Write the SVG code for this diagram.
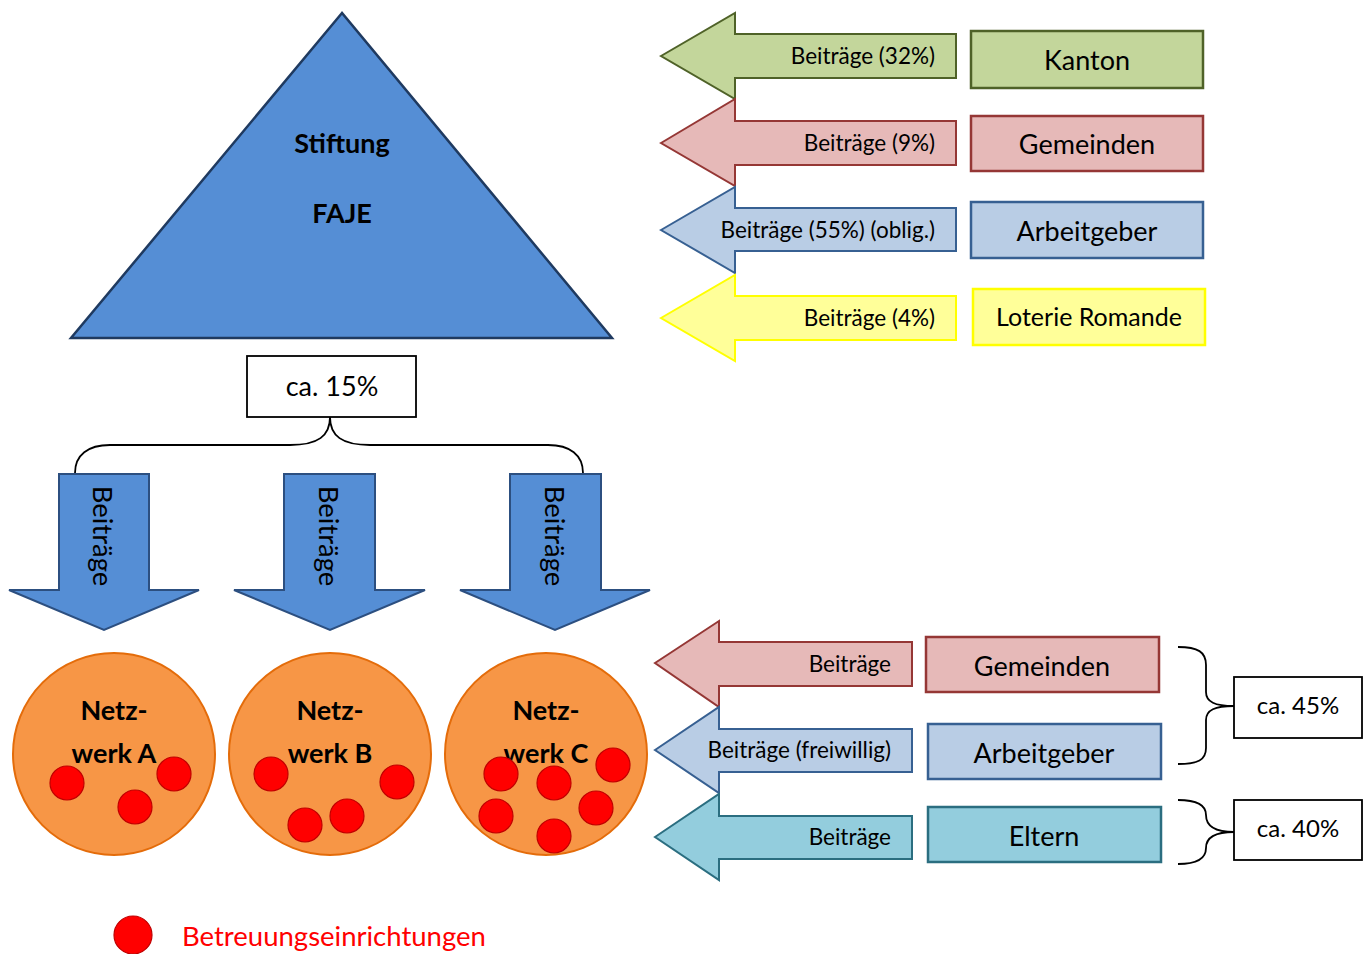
<svg xmlns="http://www.w3.org/2000/svg" width="1370" height="954" viewBox="0 0 1370 954">
<style>
text{font-family:Lato,"Open Sans","Liberation Sans",sans-serif;fill:#000}
.lbl{font-size:22.5px;text-anchor:end}
.box{font-size:27px;text-anchor:middle}
.pct{font-size:24px;text-anchor:middle}
.bold{font-weight:bold;font-size:27px;text-anchor:middle}
.vert{font-size:27.5px;text-anchor:middle}
.dot{fill:#FF0000;stroke:#C00000;stroke-width:1.2}
.net{fill:#F79646;stroke:#E46C0A;stroke-width:2}
.down{fill:#558ED5;stroke:#2C4F80;stroke-width:2}
.brace{fill:none;stroke:#000;stroke-width:1.8}
.wbox{fill:#fff;stroke:#000;stroke-width:1.8}
</style>
<rect width="1370" height="954" fill="#fff"/>

<g id="stiftung">
<polygon points="342,13 71,338 612,338" fill="#558ED5" stroke="#1F3A60" stroke-width="2.5"/>
<text class="bold" x="342" y="153">Stiftung</text>
<text class="bold" x="342" y="223">FAJE</text>
</g>

<g id="connectors">
<g id="arrow-kanton"><polygon points="661,56 735,13 735,34 956,34 956,78 735,78 735,99" fill="#C3D69B" stroke="#4F6228" stroke-width="2"/><text class="lbl" x="935" y="64">Beiträge (32%)</text></g>
<g id="arrow-gemeinden"><polygon points="661,143 735,99 735,121 956,121 956,165 735,165 735,186" fill="#E6B9B8" stroke="#953735" stroke-width="2"/><text class="lbl" x="935" y="151">Beiträge (9%)</text></g>
<g id="arrow-arbeitgeber"><polygon points="661,230 735,187 735,208 956,208 956,251 735,251 735,273" fill="#B9CDE5" stroke="#376092" stroke-width="2"/><text class="lbl" x="935" y="238">Beiträge (55%) (oblig.)</text></g>
<g id="arrow-loterie"><polygon points="661,318 735,275 735,296 956,296 956,340 735,340 735,361" fill="#FFFF99" stroke="#FFFF00" stroke-width="2"/><text class="lbl" x="935" y="326">Beiträge (4%)</text></g>

<path class="brace" d="M330,417 C330,436 318,445 290,445 L110,445 C88,445 75,455 75,473"/>
<path class="brace" d="M330,417 C330,436 342,445 370,445 L548,445 C570,445 583,455 583,473"/>

<g id="down-a"><polygon class="down" points="59,474 149,474 149,590 199,590 104,630 9,590 59,590"/><text class="vert" transform="translate(103,536) rotate(90)" x="0" y="10">Beiträge</text></g>
<g id="down-b"><polygon class="down" points="284,474 375,474 375,590 425,590 330,630 234,590 284,590"/><text class="vert" transform="translate(329,536) rotate(90)" x="0" y="10">Beiträge</text></g>
<g id="down-c"><polygon class="down" points="510,474 601,474 601,590 650,590 555,630 460,590 510,590"/><text class="vert" transform="translate(555,536) rotate(90)" x="0" y="10">Beiträge</text></g>

<g id="arrow-gemeinden2"><polygon points="655,663 719,621 719,642 912,642 912,686 719,686 719,707" fill="#E6B9B8" stroke="#953735" stroke-width="2"/><text class="lbl" x="891" y="672">Beiträge</text></g>
<g id="arrow-arbeitgeber2"><polygon points="655,750 719,707 719,729 912,729 912,772 719,772 719,793" fill="#B9CDE5" stroke="#376092" stroke-width="2"/><text class="lbl" x="891" y="758">Beiträge (freiwillig)</text></g>
<g id="arrow-eltern"><polygon points="655,837 719,794 719,816 912,816 912,859 719,859 719,880" fill="#93CDDD" stroke="#2B6E80" stroke-width="2"/><text class="lbl" x="891" y="845">Beiträge</text></g>

<path class="brace" d="M1178,647 C1198,647 1206,652 1206,665 L1206,692 C1206,702 1215,706 1234,706 C1215,706 1206,710 1206,720 L1206,748 C1206,760 1198,764 1178,764"/>
<path class="brace" d="M1178,800 C1198,800 1206,806 1206,815 C1206,826 1215,832 1234,832 C1215,832 1206,838 1206,848 C1206,858 1198,864 1178,864"/>
</g>

<g id="kanton"><rect x="971" y="31" width="232" height="57" fill="#C3D69B" stroke="#4F6228" stroke-width="2.5"/><text class="box" x="1087" y="70">Kanton</text></g>
<g id="gemeinden"><rect x="971" y="116" width="232" height="55" fill="#E6B9B8" stroke="#953735" stroke-width="2.5"/><text class="box" x="1087" y="154">Gemeinden</text></g>
<g id="arbeitgeber"><rect x="971" y="202" width="232" height="56" fill="#B9CDE5" stroke="#376092" stroke-width="2.5"/><text class="box" x="1087" y="241">Arbeitgeber</text></g>
<g id="loterie"><rect x="973" y="289" width="232" height="56" fill="#FFFF99" stroke="#FFFF00" stroke-width="2.5"/><text class="box" x="1089" y="326" style="font-size:25px">Loterie Romande</text></g>

<g id="ca15"><rect class="wbox" x="247" y="356" width="169" height="61"/><text class="pct" x="332" y="396" style="font-size:27px">ca. 15%</text></g>

<g id="netzwerk-a">
<ellipse class="net" cx="114" cy="754" rx="101" ry="101"/>
<text class="bold" x="114" y="720">Netz-</text><text class="bold" x="114" y="763">werk A</text>
<ellipse class="dot" cx="67" cy="783" rx="17" ry="17"/><ellipse class="dot" cx="174" cy="774" rx="17" ry="17"/><ellipse class="dot" cx="135" cy="807" rx="17" ry="17"/>
</g>
<g id="netzwerk-b">
<ellipse class="net" cx="330" cy="754" rx="101" ry="101"/>
<text class="bold" x="330" y="720">Netz-</text><text class="bold" x="330" y="763">werk B</text>
<ellipse class="dot" cx="271" cy="774" rx="17" ry="17"/><ellipse class="dot" cx="397" cy="782" rx="17" ry="17"/><ellipse class="dot" cx="305" cy="825" rx="17" ry="17"/><ellipse class="dot" cx="347" cy="816" rx="17" ry="17"/>
</g>
<g id="netzwerk-c">
<ellipse class="net" cx="546" cy="754" rx="101" ry="101"/>
<text class="bold" x="546" y="720">Netz-</text><text class="bold" x="546" y="763">werk C</text>
<ellipse class="dot" cx="501" cy="774" rx="17" ry="17"/><ellipse class="dot" cx="554" cy="783" rx="17" ry="17"/><ellipse class="dot" cx="613" cy="765" rx="17" ry="17"/><ellipse class="dot" cx="496" cy="816" rx="17" ry="17"/><ellipse class="dot" cx="596" cy="808" rx="17" ry="17"/><ellipse class="dot" cx="554" cy="836" rx="17" ry="17"/>
</g>

<g id="gemeinden2"><rect x="926" y="637" width="233" height="55" fill="#E6B9B8" stroke="#953735" stroke-width="2.5"/><text class="box" x="1042" y="676">Gemeinden</text></g>
<g id="arbeitgeber2"><rect x="928" y="724" width="233" height="55" fill="#B9CDE5" stroke="#376092" stroke-width="2.5"/><text class="box" x="1044" y="763">Arbeitgeber</text></g>
<g id="eltern"><rect x="928" y="807" width="233" height="55" fill="#93CDDD" stroke="#2B6E80" stroke-width="2.5"/><text class="box" x="1044" y="846">Eltern</text></g>

<g id="ca45"><rect class="wbox" x="1234" y="677" width="128" height="61"/><text class="pct" x="1298" y="714">ca. 45%</text></g>
<g id="ca40"><rect class="wbox" x="1234" y="800" width="128" height="60"/><text class="pct" x="1298" y="837">ca. 40%</text></g>

<g id="legend">
<circle class="dot" cx="133" cy="935" r="19"/>
<text x="182" y="946" style="font-size:27.5px;fill:#FF0000">Betreuungseinrichtungen</text>
</g>
</svg>
